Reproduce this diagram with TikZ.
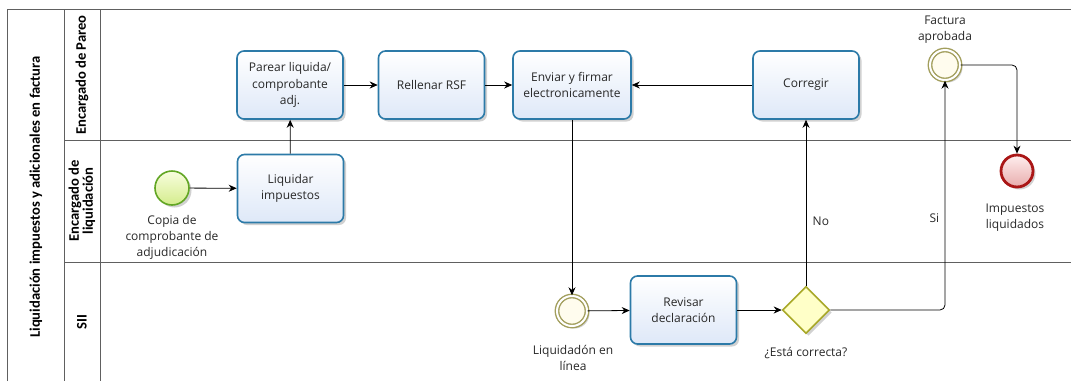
\documentclass[tikz,border=0pt]{standalone}
\usepackage{fontspec}
\setmainfont{Open Sans}
\newfontfamily\lanefont{Carlito}
\usetikzlibrary{arrows.meta,shapes.geometric,shadows}

\definecolor{poolline}{RGB}{96,96,96}
\definecolor{taskborder}{RGB}{44,122,168}
\definecolor{taskfill}{RGB}{222,232,248}
\definecolor{startborder}{RGB}{98,166,36}
\definecolor{starttop}{RGB}{248,253,222}
\definecolor{startbot}{RGB}{212,236,140}
\definecolor{midborder}{RGB}{162,158,92}
\definecolor{midfill}{RGB}{255,252,238}
\definecolor{gwborder}{RGB}{168,168,40}
\definecolor{gwfill}{RGB}{255,255,200}
\definecolor{endborder}{RGB}{170,22,22}
\definecolor{endtop}{RGB}{255,238,238}
\definecolor{endbot}{RGB}{232,172,172}
\definecolor{txt}{RGB}{40,40,40}

\tikzset{
  softshadow/.style={drop shadow={shadow xshift=2.5pt, shadow yshift=-2.5pt, opacity=0.18, fill=black}},
  task/.style={draw=taskborder, line width=1.6pt, rounded corners=7pt,
    top color=white, bottom color=taskfill, minimum width=106, minimum height=68,
    align=center, font=\fontsize{12}{16.5}\selectfont, text=txt, softshadow},
  startev/.style={circle, draw=startborder, line width=1.6pt, minimum size=34, inner sep=0,
    top color=starttop, bottom color=startbot, softshadow},
  midev/.style={circle, draw=midborder, line width=1.4pt, double=white, double distance=2pt,
    fill=midfill, minimum size=30, inner sep=0, softshadow},
  endev/.style={circle, draw=endborder, line width=2.8pt, minimum size=32, inner sep=0,
    top color=endtop, bottom color=endbot, softshadow},
  gateway/.style={diamond, draw=gwborder, line width=1.6pt, fill=gwfill,
    minimum width=47, minimum height=47, inner sep=0, aspect=1, softshadow},
  lbl/.style={align=center, font=\fontsize{12}{16}\selectfont, text=txt},
  lanelbl/.style={rotate=90, align=center, font=\lanefont\bfseries\fontsize{14.6}{14}\selectfont, text=black},
  flow/.style={draw=black, line width=0.8pt, -{Stealth[length=8pt,width=7pt]}},
  pool/.style={draw=poolline, line width=0.9pt}
}

\begin{document}
\begin{tikzpicture}[x=1pt,y=-1pt]
  \useasboundingbox (0,0) rectangle (1071,381);
  \fill[white] (0,0) rectangle (1071,381);

  % pool and lanes
  \draw[pool] (7,381) -- (7,9) -- (1071,9);
  \draw[pool] (64,9) -- (64,381);
  \draw[pool] (100,9) -- (100,381);
  \draw[pool] (64,140) -- (1071,140);
  \draw[pool] (64,262) -- (1071,262);

  \node[lanelbl] (pooltitle) at (36,197) {Liquidación impuestos y adicionales en factura};
  \node[lanelbl] (lane1) at (82,75) {Encargado de Pareo};
  \node[lanelbl, font=\lanefont\bfseries\fontsize{14.6}{14}\selectfont] (lane2) at (82,201) {Encargado de\\liquidación};
  \node[lanelbl] (lane3) at (82,322) {SII};

  % tasks
  \node[task] (par) at (290,85) {Parear liquida/\\comprobante\\adj.};
  \node[task] (rsf) at (431.5,85) {Rellenar RSF};
  \node[task, minimum width=118] (env) at (572,85) {Enviar y firmar\\electronicamente};
  \node[task] (cor) at (806,85) {Corregir};
  \node[task] (liq) at (290.5,188.5) {Liquidar\\impuestos};
  \node[task] (rev) at (683.5,310) {Revisar\\declaración};

  % events and gateway
  \node[startev] (start) at (172,188) {};
  \node[midev] (lin) at (572,311) {};
  \node[gateway] (gw) at (806,310) {};
  \node[midev] (fact) at (945,65) {};
  \node[endev] (fin) at (1017,171) {};

  % event labels
  \node[lbl] (startlbl) at (172,237) {Copia de\\comprobante de\\adjudicación};
  \node[lbl] (linlbl) at (573,357.5) {Liquidadón en\\línea};
  \node[lbl] (gwlbl) at (806,353) {¿Está correcta?};
  \node[lbl] (factlbl) at (945,29.5) {Factura\\aprobada};
  \node[lbl] (finlbl) at (1015,218) {Impuestos\\liquidados};

  % sequence flows
  \draw[flow] (start) -- (liq);
  \draw[flow] (liq) -- (par);
  \draw[flow] (par) -- (rsf);
  \draw[flow] (rsf) -- (env);
  \draw[flow] (cor) -- (env);
  \draw[flow] (env.south) -- (lin.north);
  \draw[flow] (lin) -- (rev);
  \draw[flow] (rev) -- (gw);
  \draw[flow] (gw.north) -- node[lbl, pos=0.39, right=3pt] (nolbl) {No} (cor.south);
  \draw[flow, rounded corners=5pt] (gw.east) -| node[lbl, pos=0.7, left=2pt] (silbl) {Si} (fact.south);
  \draw[flow, rounded corners=5pt] (fact.east) -| (fin.north);
\end{tikzpicture}
\end{document}
